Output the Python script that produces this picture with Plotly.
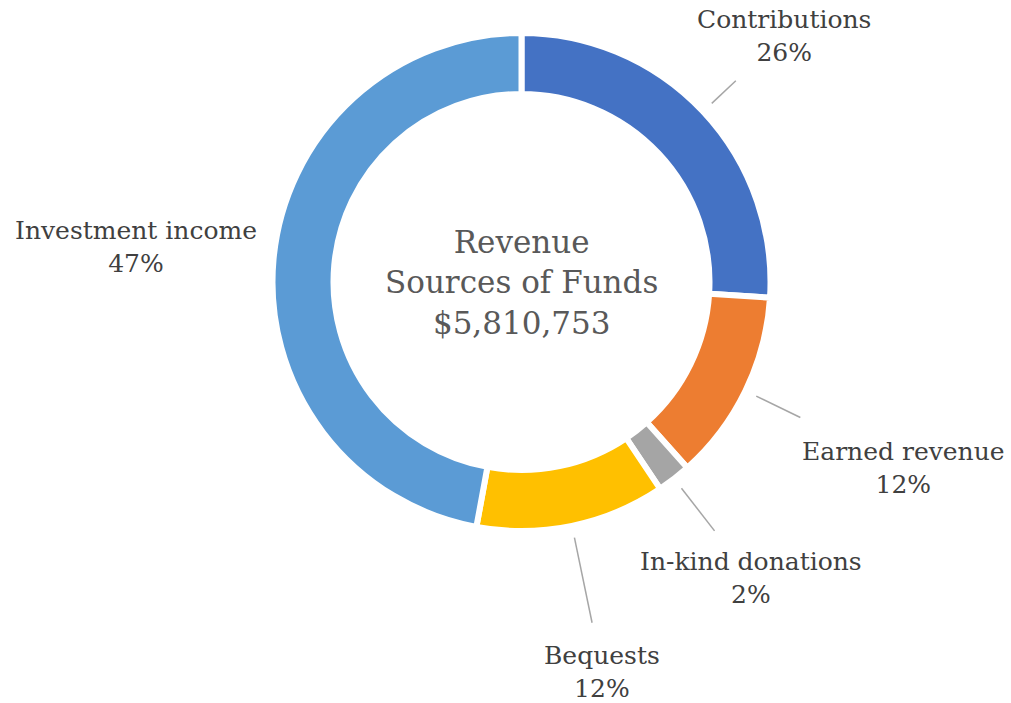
import math
import plotly.graph_objects as go

# ---- data ----
categories = ["Contributions", "Earned revenue", "In-kind donations", "Bequests", "Investment income"]
values = [1510796, 720533, 127837, 714723, 2736864]
colors = ["#4472C4", "#ED7D31", "#A5A5A5", "#FFC000", "#5B9BD5"]
center_title = ["Revenue", "Sources of Funds"]

# ---- layout geometry (pixels in the 1011x703 page) ----
W, H = 1011, 703
cx, cy = 521.5, 282.0
R = 249.0            # pie radius incl. half of white border
hole_px = 188.0
label_r = [360, 425, 375, 398, 387]
line_r0 = 261
line_r1 = [294, 310, 315, 348, None]

FONT = "DejaVu Serif"

total = sum(values)
fig = go.Figure(go.Pie(
    labels=categories, values=values, sort=False, direction="clockwise", rotation=0,
    hole=hole_px / R, textinfo="none",
    marker=dict(colors=colors, line=dict(color="white", width=6)),
    domain=dict(x=[(cx - R) / W, (cx + R) / W], y=[1 - (cy + R) / H, 1 - (cy - R) / H]),
    showlegend=False,
))

def to_paper(px, py):
    return px / W, 1 - py / H

annotations = []
shapes = []
cum = 0.0
for i, (cat, v) in enumerate(zip(categories, values)):
    frac = v / total
    mid = (cum + frac / 2) * 2 * math.pi
    cum += frac
    s, c = math.sin(mid), math.cos(mid)
    lx, ly = to_paper(cx + label_r[i] * s, cy - label_r[i] * c)
    annotations.append(dict(
        x=lx, y=ly, xref="paper", yref="paper", showarrow=False,
        text=f"{cat}<br>{round(frac * 100)}%", align="center",
        xanchor="center", yanchor="middle",
        font=dict(family=FONT, size=25, color="#404040"),
    ))
    if line_r1[i] is not None:
        x0, y0 = to_paper(cx + line_r0 * s, cy - line_r0 * c)
        x1, y1 = to_paper(cx + line_r1[i] * s, cy - line_r1[i] * c)
        shapes.append(dict(type="line", xref="paper", yref="paper", x0=x0, y0=y0, x1=x1, y1=y1,
                           line=dict(color="#A6A6A6", width=1.5)))

ccx, ccy = to_paper(cx, cy)
annotations.append(dict(
    x=ccx, y=ccy, xref="paper", yref="paper", showarrow=False,
    text="<br>".join(center_title + [f"${total:,}"]), align="center",
    xanchor="center", yanchor="middle",
    font=dict(family=FONT, size=31, color="#595959"),
))

fig.update_layout(
    width=W, height=H, margin=dict(l=0, r=0, t=0, b=0),
    paper_bgcolor="white", plot_bgcolor="white",
    annotations=annotations, shapes=shapes,
)
fig.write_html(
    "out.html",
    config={"displayModeBar": False},
    post_script="document.body.style.margin='0';document.body.style.overflow='hidden';",
)
